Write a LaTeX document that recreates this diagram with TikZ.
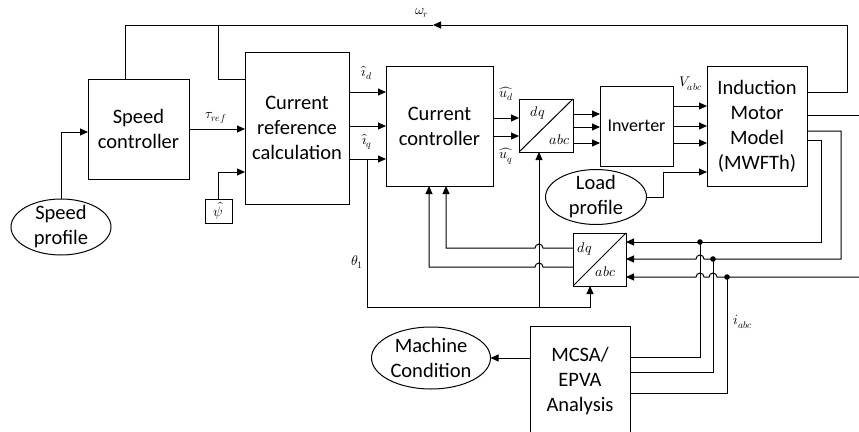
\documentclass[tikz,border=0pt]{standalone}
\usepackage{fontspec}
\usepackage{unicode-math}
\setmainfont{Carlito}
\setmathfont{Latin Modern Math}
\usetikzlibrary{calc,arrows.meta,shapes.geometric}
\begin{document}
\begin{tikzpicture}[x=1pt,y=-1pt,line width=1pt,
  blk/.style={draw,rectangle,inner sep=0pt,outer sep=0pt,align=center,font=\fontsize{20.5}{25}\selectfont},
  ell/.style={draw,ellipse,inner xsep=0pt,inner ysep=-10pt,outer sep=0pt,align=center,font=\fontsize{20.5}{25}\selectfont},
  arr/.style={-{Triangle[length=8pt,width=7pt]}},
  lbl/.style={font=\fontsize{14}{16}\selectfont,inner sep=0pt},
  jdot/.style={circle,fill,inner sep=0pt,minimum size=5.6pt}]
\useasboundingbox (0,0) rectangle (859,431);
\clip (0,0) rectangle (859,431);
% blocks
\node[blk,minimum width=101pt,minimum height=100pt] (sc) at (138.5,129) {Speed\\controller};
\node[blk,minimum width=104pt,minimum height=152pt] (crc) at (297,128) {Current\\reference\\calculation};
\node[blk,minimum width=107pt,minimum height=120pt] (cc) at (439.5,126) {Current\\controller};
\node[blk,minimum width=54pt,minimum height=53pt] (dq1) at (546,125.5) {};
\node[blk,minimum width=73pt,minimum height=80pt,font=\fontsize{18}{22}\selectfont] (inv) at (636.5,126) {Inverter};
\node[blk,minimum width=100pt,minimum height=120pt] (im) at (757,126) {Induction\\Motor\\Model\\(MWFTh)};
\node[blk,minimum width=27pt,minimum height=24pt,font=\fontsize{14}{16}\selectfont] (psi) at (218.5,211) {$\hat{\psi}$};
\node[blk,minimum width=53pt,minimum height=53pt] (dq2) at (599.5,259.5) {};
\node[blk,minimum width=100pt,minimum height=110pt] (mcsa) at (580,381) {MCSA/\\EPVA\\Analysis};
\node[ell,minimum width=100pt,minimum height=56pt] (sp) at (61,227) {Speed\\profile};
\node[ell,minimum width=101pt,minimum height=55pt] (lp) at (596,197) {Load\\profile};
\node[ell,minimum width=119pt,minimum height=62pt] (mc) at (431,358) {Machine\\Condition};
% dq/abc decorations
\draw (dq1.south west) -- (dq1.north east);
\node[lbl] at ($(dq1.north west)+(19,14)$) {$dq$};
\node[lbl] at ($(dq1.north west)+(41,41)$) {$abc$};
\draw (dq2.south west) -- (dq2.north east);
\node[lbl] at ($(dq2.north west)+(12,16)$) {$dq$};
\node[lbl] at ($(dq2.north west)+(33,39)$) {$abc$};
% helper coordinates
\coordinate (wrR) at (847,25);
\coordinate (wrA) at (433,25);
\coordinate (wrL) at (125,25);
\coordinate (wrB) at (218,25);
\coordinate (ya) at (0,92);
\coordinate (yb) at (0,126);
\coordinate (yc) at (0,159);
\coordinate (yu1) at (0,118);
\coordinate (yu2) at (0,136);
\coordinate (yd1) at (0,114);
\coordinate (yd2) at (0,127);
\coordinate (yd3) at (0,143);
\coordinate (yv1) at (0,106);
\coordinate (yv2) at (0,126);
\coordinate (yv3) at (0,143);
\coordinate (th) at (367,159);
\coordinate (tB) at (590,307);
\coordinate (tv) at (539,307);
\coordinate (lpX) at (663,172);
\coordinate (f1) at (446,248);
\coordinate (f2) at (429,267);
\coordinate (m1) at (870,115);
\coordinate (r1) at (821,242);
\coordinate (r2) at (841,259);
\coordinate (r3) at (870,277);
\coordinate (ym1) at (0,357);
\coordinate (ym2) at (0,372);
\coordinate (ym3) at (0,393);
% omega_r feedback
\draw[arr] ($(im.north east)+(0,26)$) -| (wrR) -- (wrA);
\draw (wrA) -- (wrL) -- (sc.north -| wrL);
\draw (wrB) |- ($(crc.north west)+(0,27)$);
\node[lbl] at (422,13) {$\omega_r$};
% speed profile
\draw[arr] (sp.north) |- ($(sc.south west)+(0,-47)$);
% tau_ref
\draw[arr] (sc.east) -- (sc.east -| crc.west);
\node[lbl] at (216,118) {$\tau_{ref}$};
% psi
\draw[arr] (psi.north) |- ($(crc.south west)+(0,-32)$);
% crc -> cc
\draw[arr] (crc.east |- ya) -- (cc.west |- ya);
\draw[arr] (crc.east |- yb) -- (cc.west |- yb);
\draw[arr] (crc.east |- yc) -- (cc.west |- yc);
\node[lbl] at (367,73) {$\widehat{\imath}_d$};
\node[lbl] at (367,142) {$\widehat{\imath}_q$};
% theta
\draw[arr] (th) |- (tB) -- (tB |- dq2.south);
\draw[arr] (tv) -- (tv |- dq1.south);
\node[lbl] at (357,262) {$\theta_1$};
% cc -> dq1
\draw[arr] (cc.east |- yu1) -- (dq1.west |- yu1);
\draw[arr] (cc.east |- yu2) -- (dq1.west |- yu2);
\node[lbl] at (506,94) {$\widehat{u_d}$};
\node[lbl] at (506,156) {$\widehat{u_q}$};
% dq1 -> inverter
\draw[arr] (dq1.east |- yd1) -- (inv.west |- yd1);
\draw[arr] (dq1.east |- yd2) -- (inv.west |- yd2);
\draw[arr] (dq1.east |- yd3) -- (inv.west |- yd3);
% inverter -> motor
\draw[arr] (inv.east |- yv1) -- (im.west |- yv1);
\draw[arr] (inv.east |- yv2) -- (im.west |- yv2);
\draw[arr] (inv.east |- yv3) -- (im.west |- yv3);
\node[lbl] at (691,84) {$V_{abc}$};
% load profile
\draw[arr] (lp.east) -| (lpX) -- (lpX -| im.west);
% feedback dq2 -> cc
\draw[arr] (f1 -| dq2.west) -- ($(f1 -| tv)+(4,0)$) arc[start angle=0,end angle=180,radius=4pt] -- (f1) -- (f1 |- cc.south);
\draw[arr] (f2 -| dq2.west) -- ($(f2 -| tv)+(4,0)$) arc[start angle=0,end angle=180,radius=4pt] -- (f2) -- (f2 |- cc.south);
% motor outputs
\draw ($(im.north east)+(0,49)$) -- (m1);
\node[jdot] (j1) at (700,242) {};
\node[jdot] (j2) at (713,259) {};
\node[jdot] (j3) at (727,277) {};
\draw[arr] ($(im.north east)+(0,74)$) -| (r1) -- (r1 -| dq2.east);
\draw[arr] ($(im.north east)+(0,65)$) -| (r2) -- ($(r2 -| j1)+(4,0)$) arc[start angle=0,end angle=180,radius=4pt] -- (r2 -| dq2.east);
\draw[arr] (r3) -- ($(r3 -| j2)+(4,0)$) arc[start angle=0,end angle=180,radius=4pt] -- ($(r3 -| j1)+(4,0)$) arc[start angle=0,end angle=180,radius=4pt] -- (r3 -| dq2.east);
% to MCSA
\draw (j1.center) |- (mcsa.east |- ym1);
\draw (j2.center) |- (mcsa.east |- ym2);
\draw (j3.center) |- (mcsa.east |- ym3);
\node[lbl] at (743,322) {$i_{abc}$};
% MCSA -> machine condition
\draw[arr] (mc.east -| mcsa.west) -- (mc.east);
\end{tikzpicture}
\end{document}
